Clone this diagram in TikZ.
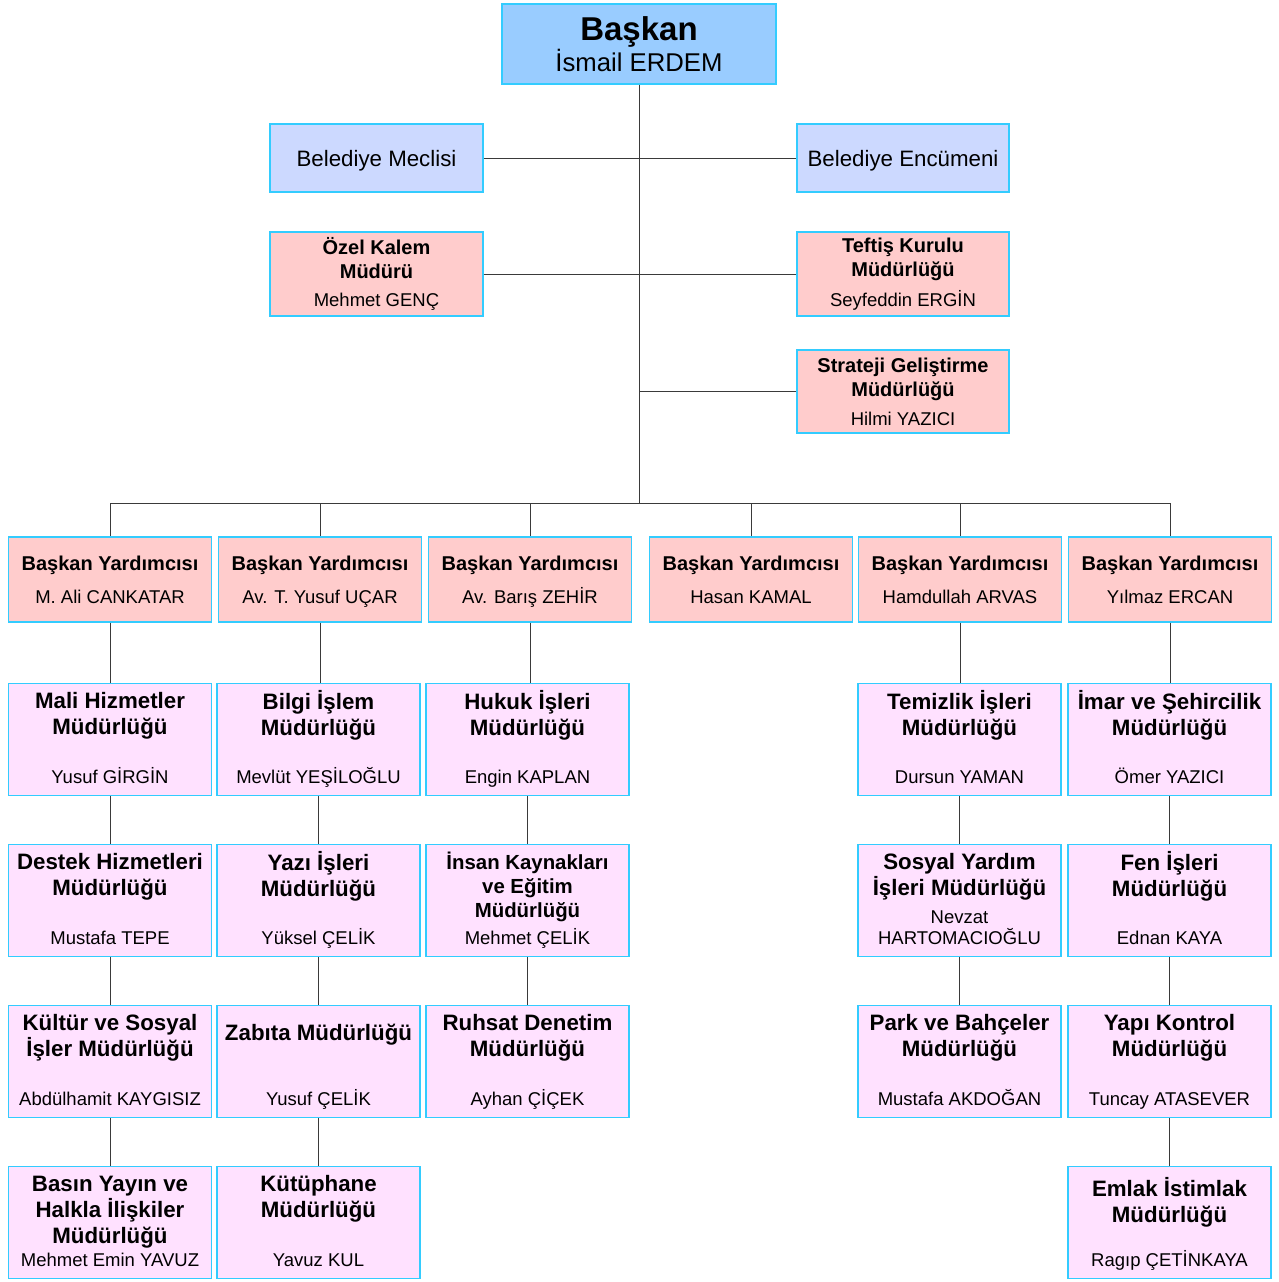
\documentclass[tikz,border=0pt]{standalone}
\usepackage{fontspec}
\setmainfont{Liberation Sans}
\usetikzlibrary{positioning}

\definecolor{boxline}{HTML}{33CCFF}
\definecolor{headfill}{HTML}{99CCFF}
\definecolor{councilfill}{HTML}{CCD9FF}
\definecolor{unitfill}{HTML}{FFCCCC}
\definecolor{deptfill}{HTML}{FFE1FF}
\definecolor{linegray}{HTML}{3A3A3A}

\tikzset{
  box/.style = {draw=boxline, line width=1.2pt, inner sep=0pt, align=center},
  headbox/.style = {box, fill=headfill, minimum width=274pt, minimum height=80pt, font=\fontsize{25.7}{31}\selectfont},
  councilbox/.style = {box, fill=councilfill, minimum width=213pt, minimum height=68pt, text depth=0pt, font=\fontsize{22.3}{26}\selectfont},
  unitbox/.style = {box, fill=unitfill, minimum width=213pt, minimum height=84pt, font=\fontsize{18.5}{24}\selectfont},
  deputybox/.style = {box, fill=unitfill, minimum width=203pt, minimum height=85pt, font=\fontsize{18.5}{24}\selectfont},
  deptbox/.style = {box, fill=deptfill, minimum width=203pt, minimum height=112pt},
  depttitle/.style = {inner sep=0pt, align=center, font=\fontsize{22.3}{26}\selectfont\bfseries},
  deptname/.style = {inner sep=0pt, align=center, font=\fontsize{18.5}{21}\selectfont},
  link/.style = {draw=linegray, line width=0.9pt}
}

\newcommand\hd[1]{{\fontsize{20}{24}\selectfont\bfseries #1}}
\newcommand\deputy[1]{\hd{\rule{0pt}{20pt}Başkan Yardımcısı}\\[9pt]#1\rule[-5pt]{0pt}{5pt}}

% box, title at top, person at bottom
\newcommand\dept[5][]{%
  \node[deptbox] (#2) at (#3) {};
  \node[depttitle, #1, below=7pt of #2.north] (#2t) {\rule{0pt}{18pt}#4};
  \node[deptname, above=7pt of #2.south] (#2n) {#5\rule[-5pt]{0pt}{5pt}};
}

\begin{document}
\begin{tikzpicture}[x=1pt, y=-1pt]

\fill[white] (0,0) rectangle (1279,1282);
\useasboundingbox (0,0) rectangle (1279,1282);

\node[headbox] (baskan) at (639,44) {{\fontsize{33}{31}\selectfont\bfseries Başkan}\\İsmail ERDEM};

\node[councilbox] (meclis) at (376.5,158) {Belediye Meclisi};
\node[councilbox, minimum width=212pt] (encumen) at (903,158) {Belediye Encümeni};

\node[unitbox] (ozel) at (376.5,274) {\hd{Özel Kalem}\\\hd{Müdürü}\\[4pt]Mehmet GENÇ};
\node[unitbox, minimum width=212pt] (teftis) at (903,274) {\hd{Teftiş Kurulu}\\\hd{Müdürlüğü}\\[6pt]Seyfeddin ERGİN};
\node[unitbox, minimum width=212pt, minimum height=83pt] (strateji) at (903,391.5) {\hd{Strateji Geliştirme}\\\hd{Müdürlüğü}\\[5pt]Hilmi YAZICI};

\node[deputybox] (yard1) at (110,579.5) {\deputy{M. Ali CANKATAR}};
\node[deputybox] (yard2) at (320,579.5) {\deputy{Av. T. Yusuf UÇAR}};
\node[deputybox] (yard3) at (530,579.5) {\deputy{Av. Barış ZEHİR}};
\node[deputybox] (yard4) at (751,579.5) {\deputy{Hasan KAMAL}};
\node[deputybox] (yard5) at (960,579.5) {\deputy{Hamdullah ARVAS}};
\node[deputybox] (yard6) at (1170,579.5) {\deputy{Yılmaz ERCAN}};

\dept{mali}{110,739.5}{Mali Hizmetler\\Müdürlüğü}{Yusuf GİRGİN}
\dept{destek}{110,900.5}{Destek Hizmetleri\\Müdürlüğü}{Mustafa TEPE}
\dept{kultur}{110,1061.5}{Kültür ve Sosyal\\İşler Müdürlüğü}{Abdülhamit KAYGISIZ}
\dept{basin}{110,1222.5}{Basın Yayın ve\\Halkla İlişkiler\\Müdürlüğü}{Mehmet Emin YAVUZ}

\dept{bilgi}{318.5,739.5}{Bilgi İşlem\\Müdürlüğü}{Mevlüt YEŞİLOĞLU}
\dept{yazi}{318.5,900.5}{Yazı İşleri\\Müdürlüğü}{Yüksel ÇELİK}
\dept[yshift=-10pt]{zabita}{318.5,1061.5}{Zabıta Müdürlüğü}{Yusuf ÇELİK}
\dept{kutup}{318.5,1222.5}{Kütüphane\\Müdürlüğü}{Yavuz KUL}

\dept{hukuk}{527.5,739.5}{Hukuk İşleri\\Müdürlüğü}{Engin KAPLAN}
\dept[font=\fontsize{20.4}{24}\selectfont\bfseries]{insan}{527.5,900.5}{İnsan Kaynakları\\ve Eğitim\\Müdürlüğü}{Mehmet ÇELİK}
\dept{ruhsat}{527.5,1061.5}{Ruhsat Denetim\\Müdürlüğü}{Ayhan ÇİÇEK}

\dept{temiz}{959.5,739.5}{Temizlik İşleri\\Müdürlüğü}{Dursun YAMAN}
\dept{sosyal}{959.5,900.5}{Sosyal Yardım\\İşleri Müdürlüğü}{Nevzat\\HARTOMACIOĞLU}
\dept{park}{959.5,1061.5}{Park ve Bahçeler\\Müdürlüğü}{Mustafa AKDOĞAN}

\dept{imar}{1169.5,739.5}{İmar ve Şehircilik\\Müdürlüğü}{Ömer YAZICI}
\dept{fen}{1169.5,900.5}{Fen İşleri\\Müdürlüğü}{Ednan KAYA}
\dept{yapi}{1169.5,1061.5}{Yapı Kontrol\\Müdürlüğü}{Tuncay ATASEVER}
\dept[yshift=-4pt]{emlak}{1169.5,1222.5}{Emlak İstimlak\\Müdürlüğü}{Ragıp ÇETİNKAYA}

\coordinate (bus) at (639,503);
\draw[link] (baskan.south) -- (bus);
\draw[link] (meclis.east) -- (encumen.west);
\draw[link] (ozel.east) -- (teftis.west);
\draw[link] (strateji.west) -- (strateji.west -| bus);
\foreach \i in {1,...,6}
  \draw[link] (bus) -| (yard\i.north);

\foreach \a/\b in {yard1/mali, mali/destek, destek/kultur, kultur/basin,
                   yard2/bilgi, bilgi/yazi, yazi/zabita, zabita/kutup,
                   yard3/hukuk, hukuk/insan, insan/ruhsat,
                   yard5/temiz, temiz/sosyal, sosyal/park,
                   yard6/imar, imar/fen, fen/yapi, yapi/emlak}
  \draw[link] (\a.south) -- (\a.south |- \b.north);

\end{tikzpicture}
\end{document}
